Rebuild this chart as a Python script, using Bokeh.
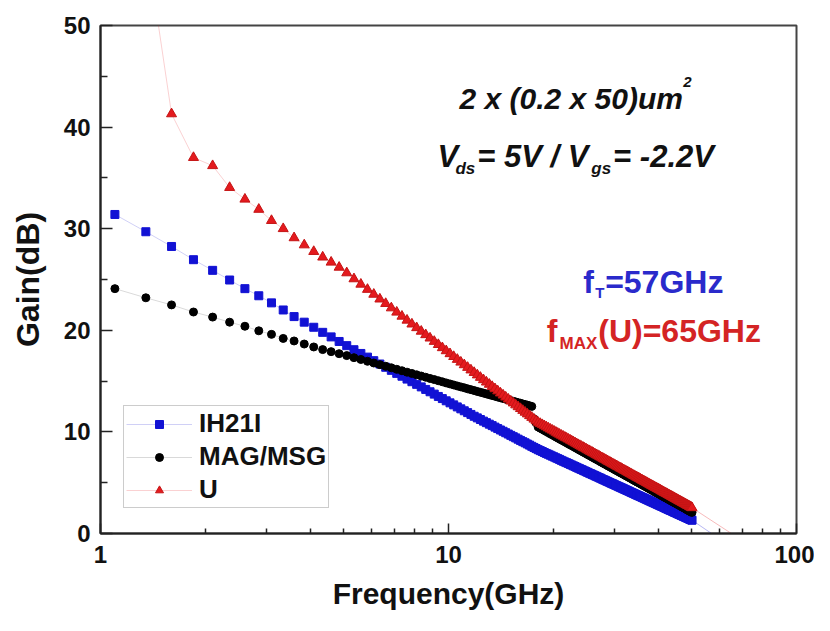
import math
from bokeh.plotting import figure
from bokeh.models import (Range1d, FixedTicker, PrintfTickFormatter, Label,
                          Legend, LegendItem)
from bokeh.embed import file_html
from bokeh.resources import INLINE

# ---------------- data ----------------
freq_ghz = [
    1.1, 1.35, 1.6, 1.85, 2.1, 2.35, 2.6, 2.85,
    3.1, 3.35, 3.6, 3.85, 4.1, 4.35, 4.6, 4.85,
    5.1, 5.35, 5.6, 5.85, 6.1, 6.35, 6.6, 6.85,
    7.1, 7.35, 7.6, 7.85, 8.1, 8.35, 8.6, 8.85,
    9.1, 9.35, 9.6, 9.85, 10.1, 10.35, 10.6, 10.85,
    11.1, 11.35, 11.6, 11.85, 12.1, 12.35, 12.6, 12.85,
    13.1, 13.35, 13.6, 13.85, 14.1, 14.35, 14.6, 14.85,
    15.1, 15.35, 15.6, 15.85, 16.1, 16.35, 16.6, 16.85,
    17.1, 17.35, 17.6, 17.85, 18.1, 18.35, 18.6, 18.85,
    19.1, 19.35, 19.6, 19.85, 20.1, 20.35, 20.6, 20.85,
    21.1, 21.35, 21.6, 21.85, 22.1, 22.35, 22.6, 22.85,
    23.1, 23.35, 23.6, 23.85, 24.1, 24.35, 24.6, 24.85,
    25.1, 25.35, 25.6, 25.85, 26.1, 26.35, 26.6, 26.85,
    27.1, 27.35, 27.6, 27.85, 28.1, 28.35, 28.6, 28.85,
    29.1, 29.35, 29.6, 29.85, 30.1, 30.35, 30.6, 30.85,
    31.1, 31.35, 31.6, 31.85, 32.1, 32.35, 32.6, 32.85,
    33.1, 33.35, 33.6, 33.85, 34.1, 34.35, 34.6, 34.85,
    35.1, 35.35, 35.6, 35.85, 36.1, 36.35, 36.6, 36.85,
    37.1, 37.35, 37.6, 37.85, 38.1, 38.35, 38.6, 38.85,
    39.1, 39.35, 39.6, 39.85, 40.1, 40.35, 40.6, 40.85,
    41.1, 41.35, 41.6, 41.85, 42.1, 42.35, 42.6, 42.85,
    43.1, 43.35, 43.6, 43.85, 44.1, 44.35, 44.6, 44.85,
    45.1, 45.35, 45.6, 45.85, 46.1, 46.35, 46.6, 46.85,
    47.1, 47.35, 47.6, 47.85, 48.1, 48.35, 48.6, 48.85,
    49.1, 49.35, 49.6, 49.85, 50.1,
]

h21_db = [
    31.4, 29.7, 28.25, 26.95, 25.9, 24.95, 24.1, 23.4,
    22.7, 22.0, 21.35, 20.8, 20.3, 19.8, 19.35, 18.9,
    18.49, 18.09, 17.72, 17.36, 17.01, 16.68, 16.36, 16.06,
    15.76, 15.48, 15.20, 14.94, 14.68, 14.43, 14.18, 13.95,
    13.72, 13.49, 13.28, 13.06, 12.86, 12.66, 12.46, 12.27,
    12.08, 11.90, 11.72, 11.54, 11.38, 11.22, 11.06, 10.91,
    10.76, 10.62, 10.47, 10.33, 10.19, 10.06, 9.92, 9.79,
    9.66, 9.53, 9.41, 9.28, 9.16, 9.04, 8.93, 8.81,
    8.70, 8.58, 8.47, 8.36, 8.25, 8.16, 8.07, 7.97,
    7.88, 7.80, 7.71, 7.62, 7.54, 7.45, 7.37, 7.29,
    7.20, 7.12, 7.04, 6.97, 6.89, 6.81, 6.74, 6.66,
    6.59, 6.51, 6.44, 6.37, 6.30, 6.23, 6.16, 6.09,
    6.02, 5.95, 5.89, 5.82, 5.76, 5.69, 5.63, 5.56,
    5.50, 5.44, 5.37, 5.31, 5.25, 5.19, 5.13, 5.07,
    5.01, 4.95, 4.90, 4.84, 4.78, 4.73, 4.67, 4.61,
    4.56, 4.51, 4.45, 4.40, 4.34, 4.29, 4.24, 4.19,
    4.14, 4.08, 4.03, 3.98, 3.93, 3.88, 3.83, 3.78,
    3.73, 3.69, 3.64, 3.59, 3.54, 3.50, 3.45, 3.40,
    3.36, 3.31, 3.27, 3.22, 3.18, 3.13, 3.09, 3.04,
    3.00, 2.96, 2.91, 2.87, 2.83, 2.79, 2.74, 2.70,
    2.66, 2.62, 2.58, 2.54, 2.49, 2.45, 2.41, 2.37,
    2.33, 2.29, 2.26, 2.22, 2.18, 2.14, 2.10, 2.06,
    2.03, 1.99, 1.95, 1.91, 1.88, 1.84, 1.80, 1.77,
    1.73, 1.69, 1.66, 1.62, 1.59, 1.55, 1.52, 1.48,
    1.45, 1.41, 1.38, 1.34, 1.31,
]

mag_msg_db = [
    24.1, 23.2, 22.5, 21.8, 21.3, 20.8, 20.4, 19.95,
    19.6, 19.2, 18.95, 18.65, 18.36, 18.1, 17.9, 17.7,
    17.51, 17.31, 17.13, 16.95, 16.78, 16.62, 16.46, 16.31,
    16.16, 16.02, 15.88, 15.75, 15.62, 15.50, 15.38, 15.26,
    15.15, 15.04, 14.93, 14.82, 14.72, 14.62, 14.52, 14.43,
    14.34, 14.24, 14.16, 14.07, 13.98, 13.90, 13.82, 13.74,
    13.66, 13.58, 13.51, 13.43, 13.36, 13.29, 13.22, 13.15,
    13.08, 13.01, 12.95, 12.88, 12.82, 12.75, 12.69, 12.63,
    12.57, 12.51, 11.30, 10.90, 10.48, 10.37, 10.26, 10.15,
    10.04, 9.93, 9.82, 9.72, 9.62, 9.51, 9.41, 9.31,
    9.21, 9.12, 9.02, 8.93, 8.83, 8.74, 8.65, 8.56,
    8.47, 8.38, 8.29, 8.20, 8.12, 8.03, 7.95, 7.87,
    7.78, 7.70, 7.62, 7.54, 7.46, 7.38, 7.30, 7.23,
    7.15, 7.07, 7.00, 6.92, 6.85, 6.78, 6.70, 6.63,
    6.56, 6.49, 6.42, 6.35, 6.28, 6.21, 6.15, 6.08,
    6.01, 5.95, 5.88, 5.82, 5.75, 5.69, 5.63, 5.56,
    5.50, 5.44, 5.38, 5.31, 5.25, 5.19, 5.13, 5.07,
    5.02, 4.96, 4.90, 4.84, 4.78, 4.73, 4.67, 4.62,
    4.56, 4.50, 4.45, 4.39, 4.34, 4.28, 4.23, 4.18,
    4.12, 4.07, 4.02, 3.97, 3.92, 3.87, 3.82, 3.76,
    3.71, 3.66, 3.61, 3.56, 3.52, 3.47, 3.42, 3.37,
    3.32, 3.27, 3.23, 3.18, 3.13, 3.09, 3.04, 2.99,
    2.95, 2.90, 2.86, 2.81, 2.77, 2.72, 2.68, 2.63,
    2.59, 2.55, 2.50, 2.46, 2.42, 2.37, 2.33, 2.29,
    2.25, 2.20, 2.16, 2.12, 2.08,
]

u_db = [
    66.0, 58.4, 41.3, 37.0, 36.2, 34.05, 32.9, 31.9,
    30.8, 30.0, 29.1, 28.4, 27.75, 27.2, 26.7, 26.2,
    25.65, 25.06, 24.53, 24.02, 23.54, 23.07, 22.63, 22.20,
    21.78, 21.38, 20.99, 20.61, 20.25, 19.90, 19.56, 19.23,
    18.90, 18.59, 18.28, 17.98, 17.69, 17.41, 17.13, 16.86,
    16.60, 16.34, 16.09, 15.84, 15.60, 15.36, 15.13, 14.90,
    14.68, 14.46, 14.24, 14.03, 13.82, 13.62, 13.42, 13.22,
    13.03, 12.84, 12.65, 12.47, 12.29, 12.11, 11.93, 11.76,
    11.59, 11.42, 11.25, 11.09, 10.93, 10.82, 10.71, 10.60,
    10.49, 10.38, 10.27, 10.17, 10.07, 9.96, 9.86, 9.76,
    9.66, 9.57, 9.47, 9.38, 9.28, 9.19, 9.10, 9.01,
    8.92, 8.83, 8.74, 8.65, 8.57, 8.48, 8.40, 8.32,
    8.23, 8.15, 8.07, 7.99, 7.91, 7.83, 7.75, 7.68,
    7.60, 7.52, 7.45, 7.37, 7.30, 7.23, 7.15, 7.08,
    7.01, 6.94, 6.87, 6.80, 6.73, 6.66, 6.60, 6.53,
    6.46, 6.40, 6.33, 6.27, 6.20, 6.14, 6.08, 6.01,
    5.95, 5.89, 5.83, 5.76, 5.70, 5.64, 5.58, 5.52,
    5.47, 5.41, 5.35, 5.29, 5.23, 5.18, 5.12, 5.07,
    5.01, 4.95, 4.90, 4.84, 4.79, 4.73, 4.68, 4.63,
    4.57, 4.52, 4.47, 4.42, 4.37, 4.32, 4.27, 4.21,
    4.16, 4.11, 4.06, 4.01, 3.97, 3.92, 3.87, 3.82,
    3.77, 3.72, 3.68, 3.63, 3.58, 3.54, 3.49, 3.44,
    3.40, 3.35, 3.31, 3.26, 3.22, 3.17, 3.13, 3.08,
    3.04, 3.00, 2.95, 2.91, 2.87, 2.82, 2.78, 2.74,
    2.70, 2.65, 2.61, 2.57, 2.53,
]

# extrapolation lines to fT = 57 GHz and fMAX = 65 GHz
ft_line_ghz = [50.1, 57.0]
ft_line_db = [1.31, 0.0]
fmax_line_ghz = [50.1, 65.0]
fmax_line_db = [2.53, 0.0]

series_labels = ["IH21I", "MAG/MSG", "U"]
x_major_ticks = [1, 10, 100]
x_minor_ticks = [2, 3, 4, 5, 6, 7, 8, 9, 20, 30, 40, 50, 60, 70, 80, 90]
y_major_ticks = [0, 10, 20, 30, 40, 50]
y_minor_ticks = [5, 15, 25, 35, 45]

# ---------------- styling ----------------
FONT = "Liberation Sans"
BLUE = "#1212d4"
RED = "#e41a1e"
BLACK = "#000000"
BLUE_TXT = "#2a2acb"
RED_TXT = "#d42424"

p = figure(width=814, height=615, x_axis_type="log",
           x_range=Range1d(1, 100), y_range=Range1d(0, 50),
           output_backend="svg", toolbar_location=None,
           min_border_left=100, min_border_right=18,
           min_border_top=25, min_border_bottom=82)

p.xgrid.grid_line_color = None
p.ygrid.grid_line_color = None
p.background_fill_color = "white"
p.border_fill_color = "white"
p.outline_line_color = "#444444"
p.outline_line_width = 2

p.xaxis.ticker = FixedTicker(ticks=x_major_ticks, minor_ticks=x_minor_ticks)
p.xaxis.formatter = PrintfTickFormatter(format="%d")
p.yaxis.ticker = FixedTicker(ticks=y_major_ticks, minor_ticks=y_minor_ticks)

for ax in (p.xaxis[0], p.yaxis[0]):
    ax.axis_line_width = 2
    ax.axis_line_color = "#222222"
    ax.major_tick_line_color = "#222222"
    ax.minor_tick_line_color = "#222222"
    ax.major_tick_line_width = 1.5
    ax.minor_tick_line_width = 1.5
    ax.major_tick_out = 0
    ax.minor_tick_out = 0
    ax.major_label_text_font = FONT
    ax.major_label_text_font_style = "bold"
    ax.major_label_text_font_size = "24px"
    ax.major_label_text_color = "#111111"
    ax.axis_label_text_font = FONT
    ax.axis_label_text_font_style = "bold"
    ax.axis_label_text_color = "#111111"

p.xaxis.major_tick_in = 10
p.xaxis.minor_tick_in = 5
p.yaxis.major_tick_in = 12
p.yaxis.minor_tick_in = 7
p.xaxis.major_label_standoff = 12
p.yaxis.major_label_standoff = 10

p.xaxis.axis_label = "Frequency(GHz)"
p.xaxis.axis_label_text_font_size = "30px"
p.xaxis.axis_label_standoff = 11
p.yaxis.axis_label = "Gain(dB)"
p.yaxis.axis_label_text_font_size = "32px"
p.yaxis.axis_label_standoff = 15

# ---------------- glyphs ----------------
lb = p.line(freq_ghz, h21_db, line_color=BLUE, line_alpha=0.2, line_width=1)
sb = p.scatter(freq_ghz, h21_db, marker="square", size=8,
               fill_color=BLUE, line_color=BLUE)
lk = p.line(freq_ghz, mag_msg_db, line_color=BLACK, line_alpha=0.15, line_width=1)
sk = p.scatter(freq_ghz, mag_msg_db, marker="circle", size=8,
               fill_color=BLACK, line_color=BLACK)
lr = p.line(freq_ghz, u_db, line_color=RED, line_alpha=0.2, line_width=1)
sr = p.scatter(freq_ghz, u_db, marker="triangle", size=10,
               fill_color=RED, line_color="#c41414")

p.line(ft_line_ghz, ft_line_db, line_color=BLUE, line_alpha=0.3, line_width=1)
p.line(fmax_line_ghz, fmax_line_db, line_color=RED, line_alpha=0.3, line_width=1)

legend = Legend(items=[LegendItem(label=series_labels[0], renderers=[lb, sb]),
                       LegendItem(label=series_labels[1], renderers=[lk, sk]),
                       LegendItem(label=series_labels[2], renderers=[lr, sr])],
                location=(23, 25))
legend.label_text_font = FONT
legend.label_text_font_style = "bold"
legend.label_text_font_size = "26px"
legend.label_text_color = "#111111"
legend.glyph_width = 66
legend.glyph_height = 20
legend.label_height = 30
legend.label_standoff = 7
legend.spacing = 2
legend.padding = 2
legend.margin = 0
legend.border_line_color = "#9a9a9a"
legend.border_line_width = 1
legend.background_fill_color = "white"
legend.background_fill_alpha = 1
p.add_layout(legend)

# ---------------- texts ----------------
def lab(x, y, text, size, color="#111111", style="bold", align="left",
        baseline="alphabetic"):
    p.add_layout(Label(x=x, y=y, text=text, text_font=FONT,
                       text_font_size=size, text_font_style=style,
                       text_color=color, text_align=align,
                       text_baseline=baseline))

# device annotation
lab(10.75, 42.81, "2 x (0.2 x 50)um", "30px", style="bold italic")
lab(47.3, 44.46, "2", "15px", style="bold italic")

lab(9.30, 37.15, "V", "31px", style="bold italic")
lab(10.47, 35.94, "ds", "17px", style="bold italic")
lab(12.09, 37.15, "= 5V / V", "31px", style="bold italic")
lab(25.73, 35.94, "gs", "17px", style="bold italic")
lab(29.72, 37.15, "= -2.2V", "31px", style="bold italic")

# fT / fMAX
lab(24.41, 24.74, "f", "32px", color=BLUE_TXT)
lab(26.41, 23.70, "T", "15px", color=BLUE_TXT)
lab(28.19, 24.74, "=57GHz", "32px", color=BLUE_TXT)

lab(19.15, 19.98, "f", "32px", color=RED_TXT)
lab(20.85, 18.71, "MAX", "17px", color=RED_TXT)
lab(26.93, 19.98, "(U)=65GHz", "32px", color=RED_TXT)

open("out.html", "w").write(file_html(p, INLINE))
